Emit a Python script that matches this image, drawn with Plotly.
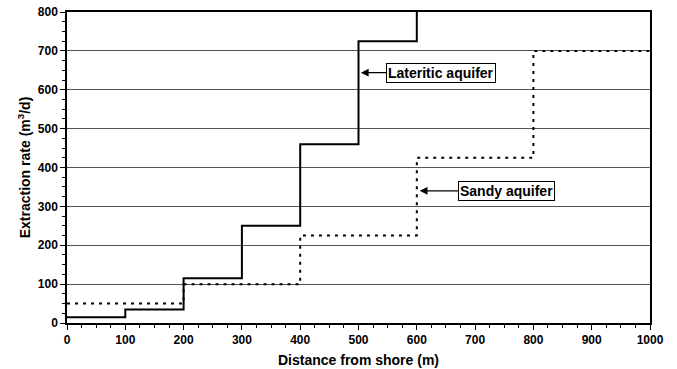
import plotly.graph_objects as go

# Data
lat_x = [0, 100, 200, 300, 400, 500, 600]
lat_y = [15, 35, 115, 250, 460, 725, 1000]
sandy_x = [0, 200, 400, 600, 800, 1000]
sandy_y = [50, 100, 225, 425, 700, 700]
x_ticks = [0, 100, 200, 300, 400, 500, 600, 700, 800, 900, 1000]
y_ticks = [0, 100, 200, 300, 400, 500, 600, 700, 800]

FAM = "Liberation Sans, Arial, sans-serif"
tick_font = dict(family=FAM, size=12, color="black", weight="bold")
title_font = dict(family=FAM, size=14, color="black", weight="bold")
ann_font = dict(family=FAM, size=14, color="black", weight="bold")

fig = go.Figure()
fig.add_trace(go.Scatter(x=lat_x, y=lat_y, mode="lines", line_shape="hv",
                         line=dict(color="black", width=2), name="Lateritic aquifer"))
fig.add_trace(go.Scatter(x=sandy_x, y=sandy_y, mode="lines", line_shape="hv",
                         line=dict(color="black", width=2, dash="3px,5px"), name="Sandy aquifer"))

fig.add_annotation(x=504, y=644, xref="x", yref="y", text="<b>Lateritic aquifer</b>",
                   showarrow=True, ax=80, ay=0, arrowhead=2, arrowsize=1.2, arrowwidth=1.3,
                   arrowcolor="black", bordercolor="black", borderwidth=1, borderpad=1,
                   bgcolor="white", font=ann_font)
fig.add_annotation(x=605, y=340, xref="x", yref="y", text="<b>Sandy aquifer</b>",
                   showarrow=True, ax=87, ay=0, arrowhead=2, arrowsize=1.2, arrowwidth=1.3,
                   arrowcolor="black", bordercolor="black", borderwidth=1, borderpad=1,
                   bgcolor="white", font=ann_font)

fig.update_layout(
    width=677, height=369,
    margin=dict(l=67, r=27, t=12, b=46),
    paper_bgcolor="white", plot_bgcolor="white",
    showlegend=False,
    font=tick_font,
)
fig.update_xaxes(range=[0, 1000], tickvals=x_ticks, showgrid=False, zeroline=False,
                 automargin=False,
                 showline=True, linecolor="black", linewidth=1.5, mirror=True,
                 ticks="outside", ticklen=5, tickcolor="black",
                 minor=dict(dtick=25, ticks="outside", ticklen=3, tickcolor="black", showgrid=False),
                 tickfont=tick_font,
                 title=dict(text="Distance from shore (m)", font=title_font, standoff=9))
fig.update_yaxes(range=[0, 800], tickvals=y_ticks, showgrid=True, gridcolor="#555", gridwidth=1,
                 zeroline=False, automargin=False,
                 showline=True, linecolor="black", linewidth=1.5, mirror=True,
                 ticks="outside", ticklen=5, tickcolor="black",
                 minor=dict(dtick=25, ticks="outside", ticklen=3, tickcolor="black", showgrid=False),
                 tickfont=tick_font,
                 title=dict(text="Extraction rate (m<sup>3</sup>/d)", font=title_font, standoff=4))

fig.write_html("out.html", config={"displayModeBar": False},
               post_script="document.body.style.margin='0';document.body.style.overflow='hidden';")
